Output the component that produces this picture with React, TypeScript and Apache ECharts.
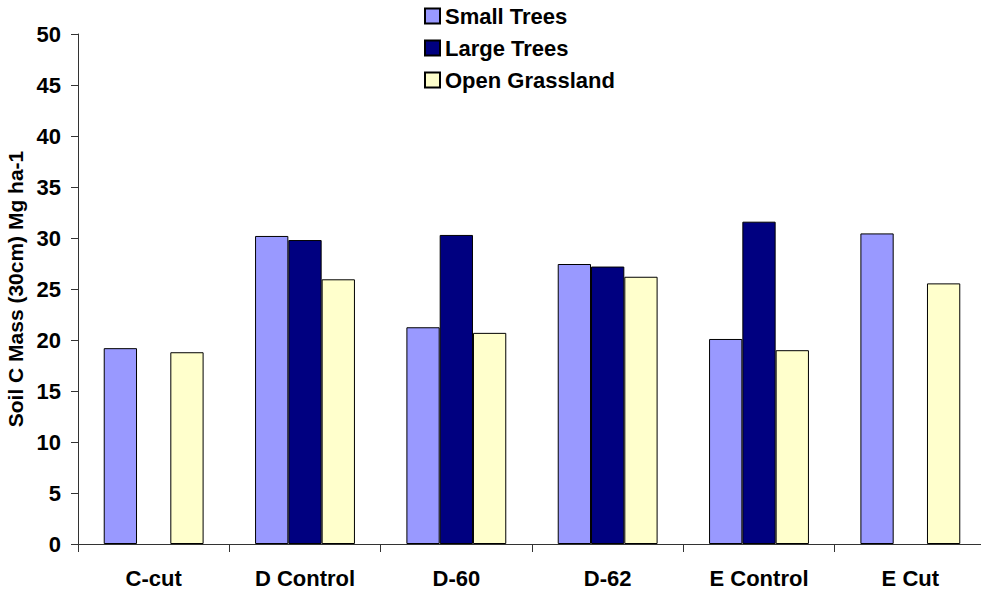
import React, { useEffect, useRef } from "react";
import * as echarts from "echarts";

const categories = ["C-cut", "D Control", "D-60", "D-62", "E Control", "E Cut"];
const smallTrees = [19.2, 30.2, 21.25, 27.45, 20.1, 30.45];
const largeTrees: (number | null)[] = [null, 29.8, 30.3, 27.2, 31.6, null];
const openGrassland = [18.8, 25.95, 20.7, 26.2, 19.0, 25.55];
const seriesNames = ["Small Trees", "Large Trees", "Open Grassland"];
const seriesColors = ["#9999FF", "#000080", "#FFFFCC"];

const FONT = "'Liberation Sans', Arial, sans-serif";

export default function App() {
  const ref = useRef<HTMLDivElement>(null);
  useEffect(() => {
    if (!ref.current) return;
    const chart = echarts.init(ref.current, null, { renderer: "svg" });
    const datasets = [smallTrees, largeTrees, openGrassland];
    chart.setOption({
      animation: false,
      backgroundColor: "#ffffff",
      textStyle: { fontFamily: FONT },
      legend: {
        orient: "vertical",
        left: 419,
        top: 0,
        itemWidth: 15,
        itemHeight: 15,
        itemGap: 10,
        icon: "rect",
        data: seriesNames,
        textStyle: { fontFamily: FONT, fontWeight: "bold", fontSize: 22, color: "#000" },
      },
      grid: {
        left: 78,
        top: 34,
        width: 908,
        height: 510,
        containLabel: false,
        outerBoundsMode: "none",
      },
      xAxis: {
        type: "category",
        data: categories,
        axisLine: { show: true, lineStyle: { color: "#333", width: 1 } },
        axisTick: { show: true, length: 8, alignWithLabel: false, lineStyle: { color: "#333" } },
        axisLabel: { fontFamily: FONT, fontWeight: "bold", fontSize: 22, color: "#000", margin: 23 },
        splitLine: { show: false },
      },
      yAxis: {
        type: "value",
        min: 0,
        max: 50,
        interval: 5,
        name: "Soil C Mass (30cm) Mg ha-1",
        nameLocation: "middle",
        nameGap: 48,
        nameTextStyle: { fontFamily: FONT, fontWeight: "bold", fontSize: 21, color: "#000" },
        axisLine: { show: true, lineStyle: { color: "#333", width: 1 } },
        axisTick: { show: true, length: 7, lineStyle: { color: "#333" } },
        axisLabel: { fontFamily: FONT, fontWeight: "bold", fontSize: 22, color: "#000", margin: 17 },
        splitLine: { show: false },
      },
      series: seriesNames.map((name, i) => ({
        name,
        type: "bar",
        data: datasets[i],
        barGap: "0%",
        barCategoryGap: "34%",
        itemStyle: { color: seriesColors[i], borderColor: "#000", borderWidth: 1 },
      })),
    });
    return () => chart.dispose();
  }, []);
  return (
    <div
      ref={ref}
      style={{ position: "absolute", left: 0, top: 0, width: 981, height: 591, background: "#fff" }}
    />
  );
}
